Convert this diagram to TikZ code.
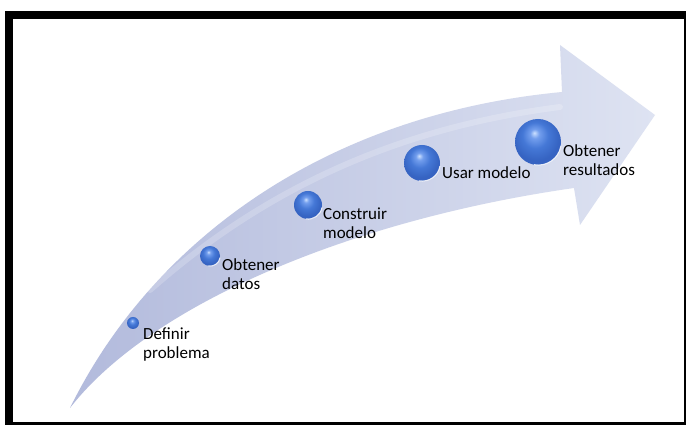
\documentclass[tikz,border=0pt]{standalone}
\usepackage{fontspec}
\setmainfont{Carlito}
\usepackage{tikz}
\usetikzlibrary{shapes.geometric, arrows.meta, positioning, calc}
\definecolor{flechaOscura}{RGB}{178,186,220}
\definecolor{flechaClara}{RGB}{222,227,242}
% sombreado de las bolas: brillo arriba, azul medio hasta el borde
\pgfdeclareradialshading{bolaAzul}{\pgfpoint{-4bp}{10bp}}{%
  rgb(0bp)=(0.80,0.88,1);
  rgb(5bp)=(0.45,0.62,0.93);
  rgb(14bp)=(0.27,0.47,0.84);
  rgb(25bp)=(0.21,0.39,0.76);
  rgb(50bp)=(0.21,0.39,0.76)}
\tikzset{
  pasos/bola/.style={circle, inner sep=0pt, shading=bolaAzul},
  pasos/brillo/.style={white, opacity=.8, line width=1pt},
  pasos/texto/.style={anchor=base west, align=left, inner sep=0pt,
    font=\fontsize{17}{19}\selectfont, text=black}
}

\begin{document}
\begin{tikzpicture}[x=1pt, y=1pt]
    \useasboundingbox (0,0) rectangle (686,425);
    \fill[white] (0,0) rectangle (686,425);
    % marco
    \fill[black] (5,0) rectangle (686,414);
    \fill[white] (13,3) rectangle (684,406);

    % flecha curva
    \shade[left color=flechaOscura, right color=flechaClara]
      (70,17) .. controls (150,180) and (320,310) .. (562,333)
      -- (560,380) -- (655,310) -- (580,200) -- (574,237)
      .. controls (350,205) and (150,120) .. (70,17) -- cycle;
    \draw[white, opacity=.2, line width=6pt, line cap=round]
      (150,135) .. controls (280,250) and (420,300) .. (560,318);

    % pasos
    \node[pasos/bola, minimum size=12pt] (b1) at (133,102) {};
    \node[pasos/bola, minimum size=20pt] (b2) at (210,169) {};
    \node[pasos/bola, minimum size=28pt] (b3) at (308,220) {};
    \node[pasos/bola, minimum size=36pt] (b4) at (422,262) {};
    \node[pasos/bola, minimum size=46pt] (b5) at (538,283) {};
    % reflejo inferior
    \draw[pasos/brillo] (b2.-10) arc (-10:-100:10pt);
    \draw[pasos/brillo] (b3.-10) arc (-10:-100:14pt);
    \draw[pasos/brillo] (b4.-10) arc (-10:-100:18pt);
    \draw[pasos/brillo] (b5.-10) arc (-10:-100:23pt);

    \node[pasos/texto] (t1) at (143,66.5)  {Definir\\problema};
    \node[pasos/texto] (t2) at (222,135.5) {Obtener\\datos};
    \node[pasos/texto] (t3) at (323,186.5) {Construir\\modelo};
    \node[pasos/texto] (t4) at (442,246)   {Usar modelo};
    \node[pasos/texto] (t5) at (563,249.5) {Obtener\\resultados};
  \end{tikzpicture}
\end{document}
